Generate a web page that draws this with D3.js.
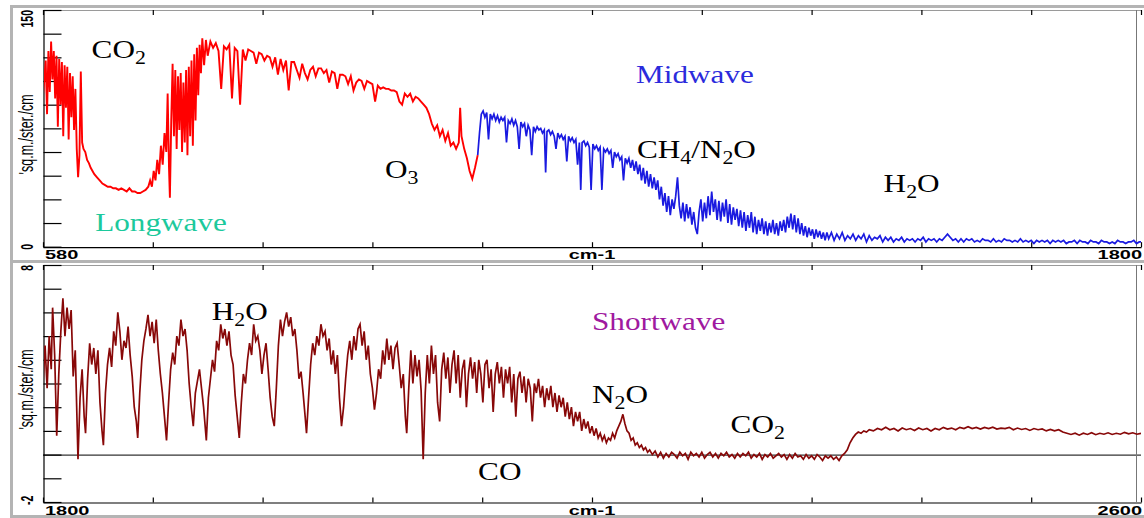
<!DOCTYPE html>
<html><head><meta charset="utf-8">
<script src="https://cdn.jsdelivr.net/npm/d3@7"></script>
<style>body{margin:0;background:#fff}svg{display:block}</style>
</head><body><svg id="c" width="1144" height="518"></svg>
<script>
// ---------- DATA (wavenumber cm-1, radiance) ----------
const longwave = [
[580,96],[581.5,106],[583,118],[584.5,84],[586,124],[587.5,98],[589,130],[590.5,106],[592,124],[593.5,94],[595,121],[596.5,76],[598,119],[599.5,90],[601,117],[602.5,70],[604,115],[605.5,88],[607,114],[608.5,68],[610,110],[611.5,82],[613,108],[614.5,74],[616,100],[617.5,62],[619,44],[620.5,58],[622,111],[623.5,66],[625,62],[627,60],[629,55],[631,53],[633,50],[635,48],[637,46],[640,44],[643,42],[646,40],[649,39],[652,38],[655,38],[658,37],[661,37],[664,36],[667,37],[670,36],[673,35],[676,37],[679,35],[682,35],[685,34],[688,34],[691,35],[694,36],[697,38],[699,42],[701,38],[703,48],[705,42],[707,55],[709,46],[711,64],[713,52],[715,72],[717,60],[718.5,97],[720,50],[721,31],[722.5,80],[724,116],[725.5,70],[727,112],[728.5,62],[730,108],[731.5,74],[733,110],[734.5,60],[736,104],[737.5,66],[739,112],[740.5,58],[742,114],[743.5,70],[745,118],[746.5,64],[748,122],[749.5,80],[751,126],[752.5,96],[754,128],[755.5,110],[757,132],[759,115],[761,131],[763,121],[766,130],[769,126],[772,129],[775,124],[778,100],[781,127],[784,125],[787,128],[790,94],[793,126],[796,124],[799,90],[802,125],[805,118],[808,125],[811,124],[814,123],[817,116],[820,123],[823,122],[826,118],[829,121],[832,120],[835,114],[838,120],[841,109],[844,119],[847,112],[850,118],[853,99],[856,117],[859,117],[862,112],[865,107],[868,116],[871,110],[874,106],[877,112],[880,114],[883,108],[886,113],[889,113],[892,110],[895,112],[898,104],[901,111],[904,110],[907,100],[910,109],[913,109],[916,108],[919,103],[922,108],[925,99],[928,104],[931,106],[934,105],[937,100],[940,105],[943,104],[946,103],[949,92],[952,102],[955,100],[958,101],[961,100],[964,100],[967,99],[970,99],[973,98],[976,92],[979,90],[982,97],[985,95],[988,97],[991,92],[994,95],[997,94],[1000,92],[1003,90],[1006,88],[1009,84],[1012,78],[1015,74],[1018,77],[1021,70],[1024,74],[1027,67],[1030,72],[1033,64],[1036,66],[1039,62],[1042,66],[1043.5,88],[1045,70],[1048,62],[1051,56],[1054,48],[1057,43],[1060,50],[1063,58]
];
const midwave = [
[1063,58],[1065,72],[1067,84],[1069,86],[1071,82],[1073,85],[1075,68],[1077,84],[1079,81],[1081,84],[1083,80],[1085,83],[1087,79],[1089,82],[1091,80],[1093,82],[1095,66],[1097,80],[1099,78],[1101,81],[1103,77],[1105,80],[1107,76],[1109,62],[1111,79],[1113,76],[1115,78],[1117,70],[1119,77],[1121,74],[1123,58],[1125,76],[1127,73],[1129,76],[1131,74],[1133,75],[1135,72],[1137,74],[1138.5,47],[1140,73],[1142,74],[1144,71],[1146,73],[1148,70],[1150,62],[1152,72],[1154,69],[1156,71],[1158,68],[1160,70],[1162,54],[1164,70],[1166,67],[1168,69],[1170,66],[1172,68],[1174,52],[1176,66],[1177.5,36],[1179,66],[1181,67],[1183,64],[1185,66],[1187,63],[1189,36],[1191,65],[1193,62],[1195,64],[1197,61],[1199,63],[1201,36],[1203,62],[1205,60],[1207,62],[1209,59],[1211,61],[1213,50],[1215,60],[1217,57],[1219,59],[1221,55],[1223,57],[1225,42],[1227,56],[1229,53],[1231,56],[1233,50],[1235,55],[1237,48],[1239,54],[1241,46],[1243,52],[1245,42],[1247,50],[1249,40],[1251,48],[1253,38],[1255,46],[1257,37],[1259,44],[1261,36],[1263,42],[1265,30],[1267,38],[1269,26],[1271,34],[1273,22],[1275,32],[1277,20],[1279,30],[1281,24],[1283,32],[1285,44],[1287,26],[1289,18],[1291,28],[1293,16],[1295,27],[1297,18],[1299,25],[1301,14],[1303,22],[1305,12],[1307,8],[1309,22],[1311,30],[1313,16],[1315,28],[1317,18],[1319,32],[1321,20],[1323,35],[1325,22],[1327,30],[1329,17],[1331,29],[1333,16],[1335,28],[1337,19],[1339,30],[1341,15],[1343,27],[1345,14],[1347,25],[1349,17],[1351,24],[1353,13],[1355,23],[1357,12],[1359,22],[1361,10],[1363,20],[1365,12],[1367,22],[1369,9],[1371,19],[1373,8],[1375,17],[1377,10],[1379,18],[1381,8],[1383,16],[1385,7],[1387,15],[1389,9],[1391,17],[1393,8],[1395,15],[1397,7],[1399,16],[1401,10],[1403,17],[1405,9],[1407,19],[1409,12],[1411,21],[1413,11],[1415,20],[1417,9],[1419,18],[1421,8],[1423,15],[1425,7],[1427,13],[1429,6],[1431,12],[1433,7],[1435,11],[1437,5],[1439,11],[1441,6],[1443,10],[1445,5],[1447,9],[1449,4],[1451,9],[1453,5],
[1456,9],[1459,4],[1462,8],[1465,5],[1468,9],[1471,4],[1474,7],[1477,5],[1480,8],[1483,4],[1486,7],[1489,5],[1492,8],[1495,3],[1498,7],[1501,4],[1504,6],[1507,5],[1510,7],[1513,3],[1516,6],[1519,4],[1522,6],[1525,3],[1528,5],[1531,4],[1534,6],[1537,3],[1540,5],[1543,4],[1546,5],[1549,3],[1552,5],[1555,4],[1558,6],[1561,3],[1564,5],[1567,4],[1570,5],[1573,3],[1576,5],[1579,4],[1582,6],[1585,8],[1588,6],[1591,4],[1594,5],[1597,3],
[1600,5],[1603,3],[1606,5],[1609,4],[1612,5],[1615,3],[1618,4],[1621,3],[1624,5],[1627,4],[1630,4],[1633,3],[1636,5],[1639,3],[1642,4],[1645,3],[1648,5],[1651,4],[1654,4],[1657,3],[1660,4],[1663,3],[1666,5],[1669,3],[1672,4],[1675,3],[1678,4],[1681,2],[1684,4],[1687,3],[1690,4],[1693,3],[1696,4],[1699,2],[1702,4],[1705,3],[1708,4],[1711,3],[1714,4],[1717,2],[1720,3],[1723,3],[1726,4],[1729,2],[1732,4],[1735,3],[1738,3],[1741,2],[1744,4],[1747,3],[1750,3],[1753,2],[1756,4],[1759,3],[1762,3],[1765,2],[1768,3],[1771,2],[1774,4],[1777,3],[1780,3],[1783,2],[1786,3],[1789,3],[1792,4],[1795,2],[1798,3],[1800,3]
];
const shortwave = [
[1800,3.0],[1801.5,4.6],[1803,2.8],[1804.5,5.0],[1806,3.6],[1807,6.2],[1808.5,4.2],[1810,0.8],[1811.5,3.4],[1813,5.2],[1814.5,6.6],[1816,5.0],[1817.5,6.2],[1819,5.3],[1820.5,6.1],[1822,3.3],[1823.5,4.4],[1825.5,-0.2],[1827,2.4],[1828.5,3.6],[1830,1.6],[1831,0.9],[1832.5,3.2],[1834,4.7],[1835.5,3.8],[1837,4.5],[1838.5,3.4],[1840,4.4],[1841.5,2.2],[1843,1.0],[1844,0.4],[1845.5,2.6],[1847,3.8],[1848.5,4.5],[1850,3.7],[1851.5,5.2],[1853,4.6],[1854.5,6.0],[1856,5.2],[1857.5,4.0],[1859,4.8],[1860.5,4.5],[1862,5.4],[1863.5,4.2],[1865,3.3],[1866.5,2.0],[1868,1.4],[1869,0.7],[1870.5,2.6],[1872,4.0],[1873.5,4.8],[1875,5.3],[1876.5,5.9],[1878,5.0],[1879.5,5.6],[1881,4.7],[1882.5,5.7],[1884,4.4],[1885.5,3.4],[1887,2.6],[1888.5,1.6],[1890,0.6],[1891.5,2.2],[1893,3.6],[1894.5,4.3],[1896,3.8],[1897.5,5.0],[1899,4.6],[1900.5,5.7],[1902,5.0],[1903.5,5.3],[1905,4.4],[1906.5,3.0],[1908,2.0],[1909.5,1.2],[1911,2.6],[1912.5,3.1],[1914,3.6],[1915.5,2.8],[1917,2.0],[1919,0.6],[1920.5,2.4],[1922,3.2],[1923.5,4.0],[1925,3.5],[1926.5,4.8],[1928,4.4],[1929.5,5.5],[1931,4.9],[1932.5,5.3],[1934,4.6],[1935.5,5.2],[1937,4.2],[1938.5,3.8],[1940,2.5],[1941.5,1.6],[1943,0.7],[1944.5,2.2],[1946,3.4],[1947.5,3.0],[1949,4.0],[1950.5,4.7],[1952,4.2],[1953.5,5.5],[1955,4.8],[1956.5,5.0],[1958,4.4],[1959.5,3.4],[1961,4.2],[1962.5,4.7],[1964,3.6],[1965.5,2.4],[1967,1.6],[1968.5,1.2],[1970,2.8],[1971.5,4.6],[1973,5.7],[1974.5,5.0],[1976,5.6],[1977.5,6.0],[1979,5.4],[1980.5,5.8],[1982,5.0],[1983.5,5.3],[1985,4.4],[1986.5,3.2],[1988,3.5],[1989.5,2.6],[1991,1.6],[1992,0.9],[1993.5,2.4],[1995,3.8],[1996.5,4.7],[1998,4.2],[1999.5,5.0],[2001,4.6],[2002.5,5.5],[2004,5.0],[2005.5,5.2],[2007,4.4],[2008.5,4.9],[2010,3.8],[2011.5,4.4],[2013,3.4],[2014.5,4.2],[2016,2.4],[2017.5,1.2],[2019,2.0],[2020.5,3.2],[2022,4.2],[2023.5,4.8],[2025,4.0],[2026.5,5.0],[2028,4.4],[2029.5,5.3],[2031,5.5],[2032.5,4.6],[2034,5.2],[2035.5,4.0],[2037,4.6],[2038.5,3.4],[2040,2.8],[2041.5,1.9],[2043,2.6],[2044.5,3.6],[2046,3.2],[2047.5,4.4],[2049,3.8],[2050.5,4.9],[2052,4.0],[2053.5,4.6],[2055,3.6],[2056.5,4.5],[2058,4.7],[2059.5,3.8],[2061,2.8],[2062.5,3.4],[2064,1.6],[2065,0.9],[2066.5,2.8],[2068,4.4],[2069.5,3.0],[2071,4.2],[2072.5,3.3],[2074,4.0],[2075.5,2.7],[2077,-0.2],[2078.5,2.6],[2080,4.2],[2081.5,3.0],[2083,4.6],[2084.5,3.4],[2086,4.2],[2087.5,2.2],[2089,1.4],[2090.5,3.6],[2092,4.3],[2093.5,3.2],[2095,4.1],[2096.5,2.6],[2098,3.8],[2099.5,4.4],[2101,3.0],[2102.5,4.2],[2104,2.4],[2105.5,3.6],[2107,4.0],[2108.5,2.0],[2110,3.4],[2111.5,4.1],[2113,3.2],[2114.5,3.9],[2116,2.6],[2117.5,4.0],[2119,3.4],[2120.5,2.2],[2122,3.8],[2123.5,4.0],[2125,2.8],[2126.5,3.6],[2128,1.8],[2129.5,3.4],[2131,3.9],[2132.5,3.0],[2134,3.7],[2135.5,2.4],[2137,3.6],[2138.5,3.0],[2140,3.7],[2141.5,2.2],[2143,3.4],[2144.5,1.6],[2146,3.2],[2147.5,3.5],[2149,2.6],[2150.5,3.3],[2152,2.2],[2153.5,3.2],[2155,2.8],[2156.5,1.4],[2158,3.0],[2159.5,2.6],[2161,3.2],[2162.5,2.4],[2164,2.9],[2165.5,2.0],[2167,2.8],[2168.5,2.3],[2170,2.9],[2171.5,2.0],[2173,2.6],[2174.5,1.8],[2176,2.5],[2177.5,2.0],[2179,2.4],[2180.5,1.6],[2182,2.2],[2183.5,1.5],[2185,2.0],[2186.5,1.2],[2188,1.8],[2189.5,1.4],[2191,1.8],[2192.5,1.0],[2194,1.5],[2195.5,1.1],[2197,1.4],[2198.5,0.9],[2200,1.2],[2201.5,0.8],[2203,1.1],[2204.5,0.7],[2206,0.9],[2207.5,0.6],[2209,0.8],[2210.5,0.5],[2212,0.7],[2213.5,0.6],[2215,0.9],[2216.5,0.7],[2218,1.0],[2219.5,1.2],[2221,1.4],[2222.5,1.7],[2224,1.3],[2225.5,1.0],[2227,0.9],[2228.5,0.6],[2230,0.7],[2231.5,0.4],[2233,0.5],[2234.5,0.3],[2236,0.4],[2237.5,0.2],[2239,0.3],[2240.5,0.1],[2242,0.2],
[2244,0.0],[2246,0.15],[2248,-0.1],[2250,0.1],[2252,-0.15],[2254,0.05],[2256,-0.1],[2258,0.1],[2260,0.0],[2262,-0.15],[2264,0.1],[2266,-0.05],[2268,0.05],[2270,-0.2],[2272,0.1],[2274,-0.05],[2276,0.05],[2278,-0.1],[2280,0.1],[2282,-0.15],[2284,0.0],[2286,0.1],[2288,-0.1],[2290,0.05],[2292,-0.15],[2294,0.05],[2296,-0.05],[2298,0.1],[2300,-0.1],[2302,0.0],[2304,-0.15],[2306,0.05],[2308,-0.1],[2310,0.05],[2312,-0.05],[2314,0.1],[2316,-0.15],[2318,0.0],[2320,-0.1],[2322,0.05],[2324,-0.2],[2326,0.0],[2328,-0.1],[2330,0.05],[2332,-0.15],[2334,-0.05],[2336,0.05],[2338,-0.1],[2340,0.0],[2342,-0.2],[2344,0.0],[2346,-0.15],[2348,0.05],[2350,-0.1],[2352,-0.05],[2354,-0.2],[2356,0.0],[2358,-0.15],[2360,-0.05],[2362,-0.2],[2364,0.0],[2366,-0.1],[2368,-0.25],[2370,-0.05],[2372,-0.15],[2374,-0.05],[2376,-0.2],[2378,-0.1],[2380,-0.25],[2382,-0.05],[2384,0.05],[2386,0.2],[2388,0.5],[2390,0.7],[2392,0.85],[2394,0.95],[2396,0.9],[2398,1.0],[2400,0.95],[2402,1.05],
[2405,1.0],[2408,1.1],[2411,1.05],[2414,1.15],[2417,1.05],[2420,1.1],[2423,1.0],[2426,1.12],[2429,1.05],[2432,1.1],[2435,1.02],[2438,1.12],[2441,1.05],[2444,1.1],[2447,1.0],[2450,1.1],[2453,1.05],[2456,1.15],[2459,1.08],[2462,1.12],[2465,1.05],[2468,1.15],[2471,1.1],[2474,1.18],[2477,1.1],[2480,1.15],[2483,1.08],[2486,1.15],[2489,1.1],[2492,1.16],[2495,1.08],[2498,1.12],[2501,1.1],[2504,1.15],[2507,1.05],[2510,1.12],[2513,1.06],[2516,1.1],[2519,1.02],[2522,1.1],[2525,1.05],[2528,1.08],[2531,1.0],[2534,1.06],[2537,1.0],[2540,1.05],[2543,0.95],[2546,0.9],[2549,0.85],[2552,0.9],[2555,0.82],[2558,0.9],[2561,0.85],[2564,0.92],[2567,0.84],[2570,0.9],[2573,0.86],[2576,0.92],[2579,0.85],[2582,0.9],[2585,0.86],[2588,0.94],[2591,0.88],[2594,0.92],[2597,0.86],[2600,0.9]
];
const topXTicks = [580,702,824,946,1068,1190,1312,1434,1556,1678,1800];
const botXTicks = [1800,1880,1960,2040,2120,2200,2280,2360,2440,2520,2600];
const topYTicks = [0,15,30,45,60,75,90,105,120,135,150];
const botYTicks = [-2,-1,0,1,2,3,4,5,6,7,8];
const topXLabels = ["580","cm-1","1800"];
const botXLabels = ["1800","cm-1","2600"];
const topYLabels = ["0","150"];
const botYLabels = ["-2","8"];
const yUnitLabel = "'sq.m./ster./cm";
const topNotes = [
  {segs:["CO","_2"], wn:634, v:119.6, color:"#000"},
  {segs:["Longwave"], wn:638, v:10, color:"#1cc99c"},
  {segs:["O","_3"], wn:960, v:43.5, color:"#000"},
  {segs:["Midwave"], wn:1239, v:103.7, color:"#2b2bdc"},
  {segs:["CH","_4","/N","_2","O"], wn:1240, v:56.5, color:"#000"},
  {segs:["H","_2","O"], wn:1514, v:34.7, color:"#000"}
];
const botNotes = [
  {segs:["H","_2","O"], wn:1923, v:5.68, color:"#000"},
  {segs:["Shortwave"], wn:2200, v:5.26, color:"#a0199f"},
  {segs:["N","_2","O"], wn:2200, v:2.18, color:"#000"},
  {segs:["CO","_2"], wn:2301, v:0.91, color:"#000"},
  {segs:["CO"], wn:2117, v:-1.07, color:"#000"}
];

// ---------- DRAW ----------
const svg = d3.select("#c");
const L = 43, R = 1141;
const xTop = d3.scaleLinear().domain([580,1800]).range([L,R]);
const yTop = d3.scaleLinear().domain([0,150]).range([246.7,10]);
const xBot = d3.scaleLinear().domain([1800,2600]).range([L,R]);
const yBot = d3.scaleLinear().domain([-2,8]).range([502,265]);

// outer gray frame
const gray = "#b4b4b4";
svg.append("line").attr("x1",11.5).attr("x2",11.5).attr("y1",5).attr("y2",518).attr("stroke",gray).attr("stroke-width",3);
svg.append("line").attr("x1",10).attr("x2",1144).attr("y1",6.5).attr("y2",6.5).attr("stroke",gray).attr("stroke-width",3);
svg.append("line").attr("x1",10).attr("x2",1144).attr("y1",261.5).attr("y2",261.5).attr("stroke",gray).attr("stroke-width",3);
svg.append("line").attr("x1",10).attr("x2",1144).attr("y1",516.5).attr("y2",516.5).attr("stroke",gray).attr("stroke-width",3);

function panel(x, y, yTicks, xTicks, series, id){
  const [y0,y1] = y.range();
  const [x0,x1] = x.range();
  svg.append("line").attr("x1",x0).attr("x2",x1).attr("y1",y1+0.5).attr("y2",y1+0.5).attr("stroke","#9a9a9a").attr("stroke-width",1);
  svg.append("line").attr("x1",x1-4.5).attr("x2",x1-4.5).attr("y1",y1).attr("y2",y0).attr("stroke","#777").attr("stroke-width",1);
  svg.append("g").attr("transform",`translate(${x0+0.5},0)`)
    .call(d3.axisLeft(y).tickValues(yTicks).tickSize(-18).tickSizeOuter(0).tickFormat(""))
    .call(g=>g.selectAll("line,path").attr("stroke","#000").attr("stroke-width",1.2));
  svg.append("g").attr("transform",`translate(0,${y0+0.5})`)
    .call(d3.axisBottom(x).tickValues(xTicks).tickSize(-5).tickSizeOuter(0).tickFormat(""))
    .call(g=>g.selectAll("line,path").attr("stroke","#000").attr("stroke-width",1.2));
  svg.append("g").attr("transform",`translate(0,${y1})`)
    .call(d3.axisTop(x).tickValues(xTicks).tickSize(-5).tickSizeOuter(0).tickFormat(""))
    .call(g=>g.select("path").remove())
    .call(g=>g.selectAll("line").attr("stroke","#000").attr("stroke-width",1.2));
  svg.append("clipPath").attr("id",id).append("rect").attr("x",x0+1).attr("y",y1).attr("width",x1-x0-1).attr("height",y0-y1);
  const line = d3.line().x(d=>x(d[0])).y(d=>y(d[1]));
  series.forEach(s=>{
    svg.append("path").datum(s.data).attr("clip-path",`url(#${id})`)
      .attr("fill","none").attr("stroke",s.color).attr("stroke-width",s.w).attr("stroke-linejoin","miter").attr("d",line);
  });
}
panel(xTop, yTop, topYTicks, topXTicks, [{data:longwave,color:"#ff0000",w:1.9},{data:midwave,color:"#1a1ae0",w:1.7}], "clipTop");
svg.append("line").attr("x1",L).attr("x2",R).attr("y1",yBot(0)+0.5).attr("y2",yBot(0)+0.5).attr("stroke","#000").attr("stroke-width",1);
panel(xBot, yBot, botYTicks, botXTicks, [{data:shortwave,color:"#880808",w:1.7}], "clipBot");

// axis labels (stretched sans)
const sans = "'Liberation Sans',Arial,sans-serif";
function xLabels(labels, baseY){
  const anchors = ["start","middle","end"];
  const xs = [L+2, (L+R)/2, R+1];
  labels.forEach((t,i)=>{
    svg.append("text").attr("transform",`translate(${xs[i]},${baseY}) scale(1.6,1)`)
      .attr("text-anchor",anchors[i]).attr("font-family",sans).attr("font-weight","bold").attr("font-size",12.5).attr("fill","#000").text(t);
  });
}
xLabels(topXLabels, 258.5);
xLabels(botXLabels, 514.5);
function yLabels(labels, y){
  const [y0,y1] = y.range();
  svg.append("text").attr("transform",`translate(33,${y0+3}) scale(1.6,1) rotate(-90)`)
    .attr("text-anchor","start").attr("font-family",sans).attr("font-weight","bold").attr("font-size",10.5).text(labels[0]);
  svg.append("text").attr("transform",`translate(33,${y1}) scale(1.6,1) rotate(-90)`)
    .attr("text-anchor","end").attr("font-family",sans).attr("font-weight","bold").attr("font-size",10.5).text(labels[1]);
  svg.append("text").attr("transform",`translate(33,${(y0+y1)/2+6}) scale(1.55,1) rotate(-90)`)
    .attr("text-anchor","middle").attr("font-family",sans).attr("font-size",12.5).text(yUnitLabel);
}
yLabels(topYLabels, yTop);
yLabels(botYLabels, yBot);

// annotations (serif with subscripts)
const serif = "'Liberation Serif','Times New Roman',serif";
function notes(list, x, y){
  list.forEach(n=>{
    const size = 26;
    const t = svg.append("text").attr("transform",`translate(${x(n.wn)},${y(n.v)}) scale(1.2,1)`)
      .attr("font-family",serif).attr("font-size",size).attr("fill",n.color);
    let sub = false;
    n.segs.forEach(s=>{
      if (s.startsWith("_")) {
        t.append("tspan").attr("font-size",size*0.7).attr("dy",size*0.24).text(s.slice(1)); sub = true;
      } else {
        t.append("tspan").attr("dy", sub ? -size*0.24 : 0).text(s); sub = false;
      }
    });
  });
}
notes(topNotes, xTop, yTop);
notes(botNotes, xBot, yBot);
</script>
</body></html>
